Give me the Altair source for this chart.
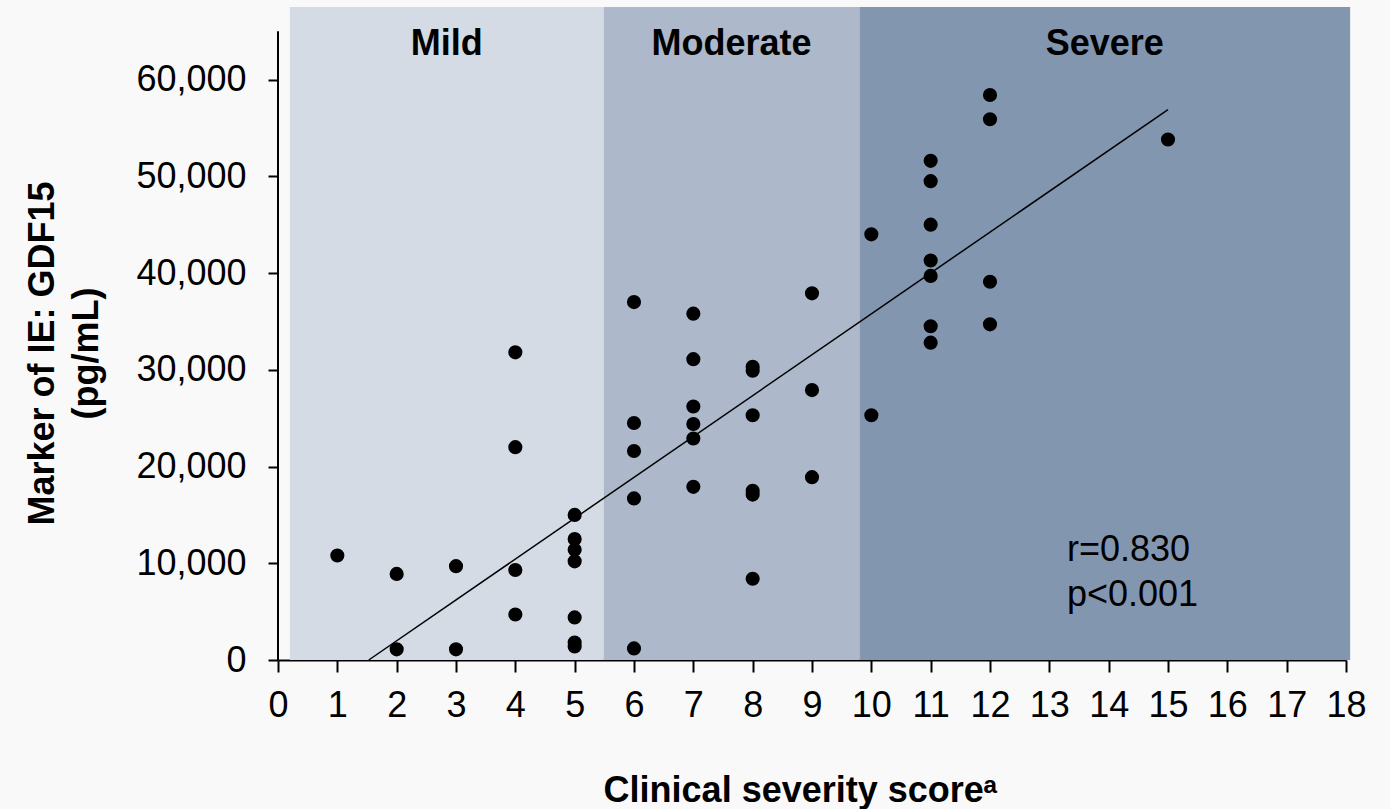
import altair as alt
import pandas as pd

# ---- data ----
scores = [1,
          2, 2,
          3, 3,
          4, 4, 4, 4,
          5, 5, 5, 5, 5, 5, 5,
          6, 6, 6, 6, 6,
          7, 7, 7, 7, 7, 7,
          8, 8, 8, 8, 8, 8,
          9, 9, 9,
          10, 10,
          11, 11, 11, 11, 11, 11, 11,
          12, 12, 12, 12,
          15]
gdf15 = [10800,
         8900, 1100,
         9700, 1100,
         31800, 22000, 9300, 4700,
         15000, 12500, 11400, 10200, 4400, 1800, 1400,
         37000, 24500, 21600, 16700, 1200,
         35800, 31100, 26200, 24400, 22900, 17900,
         30300, 29900, 25300, 17500, 17100, 8400,
         37900, 27900, 18900,
         44000, 25300,
         51600, 49500, 45000, 41300, 39700, 34500, 32800,
         58400, 55900, 39100, 34700,
         53800]

fit_x = [1.53, 15]
fit_y = [0, 56900]

band_names = ["Mild", "Moderate", "Severe"]
band_start = [0.2, 5.49, 9.8]
band_end = [5.49, 9.8, 18.07]

stats_lines = ["r=0.830", "p<0.001"]

x_ticks = list(range(0, 19))
y_ticks = [0, 10000, 20000, 30000, 40000, 50000, 60000]

# ---- styling ----
FONT = "Liberation Sans"
band_colors = ["#d5dbe5", "#adb8ca", "#8396b0"]
W, H = 1068, 653
Y_MAX = 67500

points = pd.DataFrame({"score": scores, "gdf15": gdf15})
fit = pd.DataFrame({"score": fit_x, "gdf15": fit_y})
bands = pd.DataFrame({"band": band_names, "start": band_start, "end": band_end})

xscale = alt.Scale(domain=[0, 18], nice=False, zero=False)
yscale = alt.Scale(domain=[0, Y_MAX], nice=False)

x_axis = alt.Axis(
    values=x_ticks, grid=False, format="d", title="Clinical severity scoreᵃ",
    labelFontSize=36, labelFont=FONT, labelColor="black",
    titleFontSize=36, titleFont=FONT, titleFontWeight="bold", titleColor="black",
    tickSize=12, tickWidth=2, tickColor="black",
    domainWidth=2, domainColor="black",
    labelPadding=16, labelFlush=False, labelOverlap=False,
    titleX=522, titleY=141, titleBaseline="alphabetic", titleAlign="center",
)
y_axis = alt.Axis(
    values=y_ticks, grid=False,
    labelExpr="format(datum.value, ',.0f')",
    title=["Marker of IE: GDF15", "(pg/mL)"],
    labelFontSize=36, labelFont=FONT, labelColor="black",
    titleFontSize=36, titleFont=FONT, titleFontWeight="bold", titleColor="black",
    titleLineHeight=44,
    tickSize=10, tickWidth=2, tickColor="black",
    domain=False, labelPadding=22, labelOverlap=False,
    titleAngle=270, titleX=-225, titleY=346, titleAlign="center",
    titleBaseline="alphabetic",
)

band_layer = alt.Chart(bands).mark_rect().encode(
    x=alt.X("start:Q", scale=xscale, axis=x_axis),
    x2="end:Q",
    y=alt.value(0),
    y2=alt.value(H),
    color=alt.Color("band:N", scale=alt.Scale(domain=band_names, range=band_colors), legend=None),
)

band_text = alt.Chart(bands).transform_calculate(
    mid="(datum.start + datum.end) / 2"
).mark_text(
    font=FONT, fontSize=36, fontWeight="bold", color="black",
    align="center", baseline="alphabetic",
).encode(
    x=alt.X("mid:Q", scale=xscale, axis=x_axis),
    y=alt.value(48),
    text="band:N",
)

y_line = alt.Chart(pd.DataFrame({"a": [0]})).mark_rule(color="black", strokeWidth=2).encode(
    x=alt.X(datum=0, scale=xscale, axis=x_axis),
    y=alt.Y(datum=0, scale=yscale, axis=y_axis),
    y2=alt.Y2(datum=65000),
)

pts = alt.Chart(points).mark_circle(size=200, color="black", opacity=1).encode(
    x=alt.X("score:Q", scale=xscale, axis=x_axis),
    y=alt.Y("gdf15:Q", scale=yscale, axis=y_axis),
)

fit_line = alt.Chart(fit).mark_line(color="black", strokeWidth=1.5).encode(
    x=alt.X("score:Q", scale=xscale, axis=x_axis),
    y=alt.Y("gdf15:Q", scale=yscale, axis=y_axis),
)

stats = alt.Chart(pd.DataFrame({"a": [0]})).mark_text(
    text=stats_lines, font=FONT, fontSize=36, color="black",
    align="left", baseline="alphabetic", lineHeight=45,
).encode(
    x=alt.value(789),
    y=alt.value(554),
)

chart = alt.layer(band_layer, band_text, y_line, pts, fit_line, stats).properties(
    width=W, height=H,
    padding={"left": 278, "top": 7, "right": 1390 - 278 - W, "bottom": 809 - 7 - H},
    autosize=alt.AutoSizeParams(type="none"),
    background="#f9f9f9",
).configure_view(stroke=None)

chart.save("out.html", embed_options={"renderer": "svg", "actions": False})
